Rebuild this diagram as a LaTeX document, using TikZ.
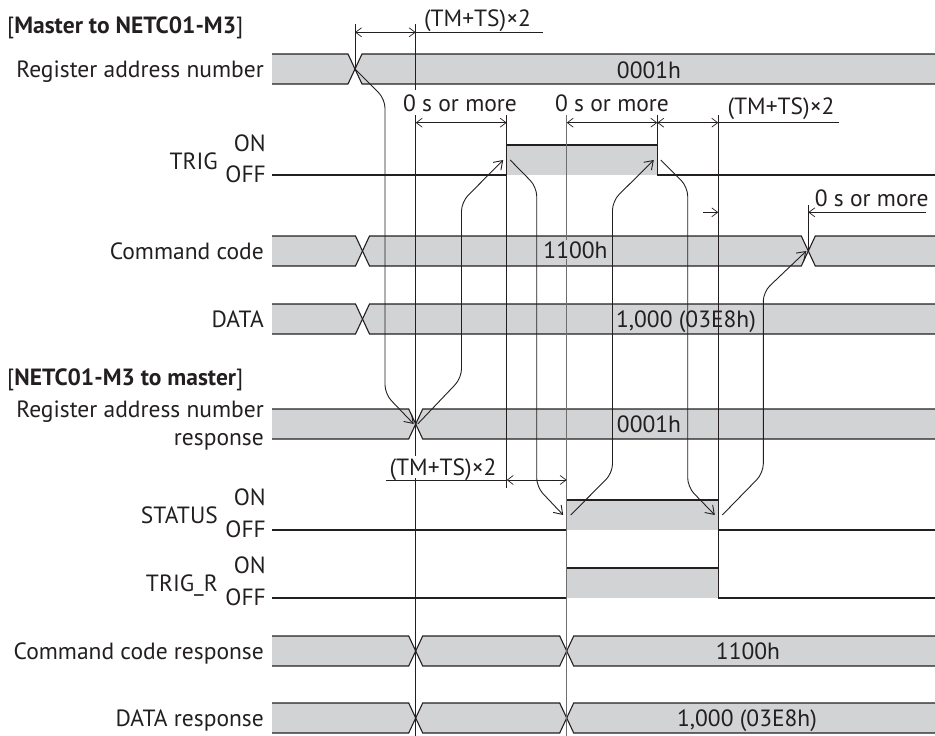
\documentclass[tikz,border=0pt]{standalone}
\usepackage{fontspec}
\setmainfont{PT Sans}
\usetikzlibrary{arrows.meta}
\definecolor{busgray}{HTML}{D1D3D4}
\definecolor{ink}{HTML}{231F20}
% bus with one transition: #1 top, #2 bottom, #3 X centre
\newcommand\busOne[3]{%
  \fill[busgray] (272,#1) -- ({#3-7},#1) -- (#3,{(#1+#2)/2}) -- ({#3-7},#2) -- (272,#2) -- cycle
    (935,#1) -- ({#3+7},#1) -- (#3,{(#1+#2)/2}) -- ({#3+7},#2) -- (935,#2) -- cycle;
  \draw[sig] (272,#1) -- ({#3-7},#1) -- ({#3+7},#2) -- (935,#2);
  \draw[sig] (272,#2) -- ({#3-7},#2) -- ({#3+7},#1) -- (935,#1);
}
% bus with two transitions: #1 top, #2 bottom, #3 and #4 X centres
\newcommand\busTwo[4]{%
  \fill[busgray] (272,#1) -- ({#3-7},#1) -- (#3,{(#1+#2)/2}) -- ({#3-7},#2) -- (272,#2) -- cycle
    ({#3+7},#1) -- ({#4-7},#1) -- (#4,{(#1+#2)/2}) -- ({#4-7},#2) -- ({#3+7},#2) -- (#3,{(#1+#2)/2}) -- cycle
    (935,#1) -- ({#4+7},#1) -- (#4,{(#1+#2)/2}) -- ({#4+7},#2) -- (935,#2) -- cycle;
  \draw[sig] (272,#1) -- ({#3-7},#1) -- ({#3+7},#2) -- ({#4-7},#2) -- ({#4+7},#1) -- (935,#1);
  \draw[sig] (272,#2) -- ({#3-7},#2) -- ({#3+7},#1) -- ({#4-7},#1) -- ({#4+7},#2) -- (935,#2);
}
\begin{document}
\begin{tikzpicture}[x=1pt,y=-1pt,
  font=\fontsize{23.5}{27}\selectfont,
  sig/.style={draw=ink,line width=1.1pt,line join=miter},
  guide/.style={draw=ink,line width=0.75pt},
  dim/.style={draw=ink,line width=0.75pt},
  tipd/.tip={Straight Barb[length=6pt,width=9pt,line width=0.7pt]},
  curv/.style={draw=ink,line width=0.9pt,rounded corners=9pt,-{Straight Barb[length=8pt,width=11pt,line width=0.9pt]}},
  lbl/.style={anchor=base east,inner sep=0pt,text=ink},
  val/.style={anchor=base,inner sep=0pt,text=ink},
]
\useasboundingbox (0,0) rectangle (935,736);

% ---------- buses and signals ----------
\busOne{54}{84}{355}
\fill[busgray] (506.7,145) rectangle (657.3,175);
\draw[sig] (272,175) -- (506.7,175) -- (506.7,145) -- (657.3,145) -- (657.3,175) -- (935,175);
\busTwo{236}{266}{362.5}{808.3}
\busOne{304}{334}{362.5}
\busOne{409}{439}{415.7}
\fill[busgray] (566.7,500) rectangle (718.3,530);
\draw[sig] (272,530) -- (566.7,530) -- (566.7,500) -- (718.3,500) -- (718.3,530) -- (935,530);
\fill[busgray] (566.7,568) rectangle (718.3,598);
\draw[sig] (272,598) -- (566.7,598) -- (566.7,568) -- (718.3,568) -- (718.3,598) -- (935,598);
\busTwo{636}{666}{415.7}{566.7}
\busTwo{703}{733}{415.7}{566.7}

% ---------- key points ----------
\coordinate (regX) at (355,69);
\coordinate (respX) at (415.7,424);
\coordinate (trigR) at (506.7,160);
\coordinate (trigF) at (657.3,160);
\coordinate (statR) at (566.7,515);
\coordinate (statF) at (718.3,515);
\coordinate (cmdX) at (808.3,251);

% ---------- guide lines ----------
\draw[guide] (355,24) -- (regX);
\draw[guide] (415.7,24) -- (415.7,90);
\draw[guide] (415.7,115) -- (415.7,456);
\draw[guide] (415.7,478) -- (415.7,736);
\draw[guide] (506.7,115) -- (506.7,488);
\draw[guide,draw=ink!65] (566.7,115) -- (566.7,736);
\draw[guide] (657.3,115) -- (657.3,145);
\draw[guide] (718.3,115) -- (718.3,598);
\draw[guide] (808.3,205) -- (cmdX);

% ---------- dimension lines ----------
\draw[dim,tipd-tipd] (355,32.3) -- (415.7,32.3);
\draw[dim] (415.7,32.3) -- (543,32.3);
\draw[dim,tipd-tipd] (415.7,122.7) -- (506.7,122.7);
\draw[dim,tipd-tipd] (566.7,122.7) -- (657.3,122.7);
\draw[dim,tipd-tipd] (657.3,122.7) -- (718.3,122.7);
\draw[dim] (718.3,122.7) -- (839,122.7);
\draw[dim,-tipd] (703,212.3) -- (718.3,212.3);
\draw[dim,-tipd] (926,212.3) -- (808.3,212.3);
\draw[dim] (386,480) -- (506.7,480);
\draw[dim,tipd-tipd] (506.7,480) -- (566.7,480);

% ---------- causal arrows ----------
\draw[curv] (regX) -- (385,99) -- (385,394) -- ([xshift=-2pt]respX);
\draw[curv] ([xshift=2pt]respX) -- (461.5,378) -- (461.5,202) -- ([xshift=-3.5pt]trigR);
\draw[curv] ([xshift=3.5pt]trigR) -- (536.7,187) -- (536.7,487) -- ([xshift=-3.5pt]statR);
\draw[curv] ([xshift=4pt]statR) -- (612.5,473) -- (612.5,201) -- ([xshift=-3.5pt]trigF);
\draw[curv] ([xshift=3.5pt]trigF) -- (687.7,187) -- (687.7,487) -- ([xshift=-3.5pt]statF);
\draw[curv] ([xshift=4pt]statF) -- (763.3,473) -- (763.3,292) -- ([xshift=-2pt]cmdX);

% ---------- titles and labels ----------
\node[anchor=base west,inner sep=0pt,text=ink] (t1) at (7,34) {[\textbf{Master to NETC01-M3}]};
\node[anchor=base west,inner sep=0pt,text=ink] (t2) at (7,385) {[\textbf{NETC01-M3 to master}]};
\node[lbl] (l1) at (264,77) {Register address number};
\node[lbl] (l2) at (218,169) {TRIG};
\node[lbl] (l2a) at (266,151) {ON};
\node[lbl] (l2b) at (266,182) {OFF};
\node[lbl] (l3) at (264,259.5) {Command code};
\node[lbl] (l4) at (264,327.5) {DATA};
\node[lbl] (l5) at (264,417) {Register address number};
\node[lbl] (l5b) at (264,445) {response};
\node[lbl] (l6) at (218,523) {STATUS};
\node[lbl] (l6a) at (266,505) {ON};
\node[lbl] (l6b) at (266,537) {OFF};
\node[lbl] (l7) at (218,591) {TRIG\_R};
\node[lbl] (l7a) at (266,573) {ON};
\node[lbl] (l7b) at (266,605) {OFF};
\node[lbl] (l8) at (264,659.5) {Command code response};
\node[lbl] (l9) at (264,726.5) {DATA response};

% ---------- values ----------
\node[val] (v1) at (649,78) {0001h};
\node[val,fill=busgray,inner sep=1pt] (v2) at (575.5,258) {1100h};
\node[val] (v3) at (686,327) {1,000 (03E8h)};
\node[val] (v4) at (649,432) {0001h};
\node[val] (v5) at (748,659) {1100h};
\node[val] (v6) at (747,726) {1,000 (03E8h)};

% ---------- dimension texts ----------
\node[val] (d1) at (477.5,26) {(TM+TS)×2};
\node[val] (d2) at (460,111) {0 s or more};
\node[val] (d3) at (612,111) {0 s or more};
\node[val] (d4) at (781,114) {(TM+TS)×2};
\node[val] (d5) at (871.7,206) {0 s or more};
\node[val] (d6) at (443,475) {(TM+TS)×2};
\end{tikzpicture}
\end{document}
